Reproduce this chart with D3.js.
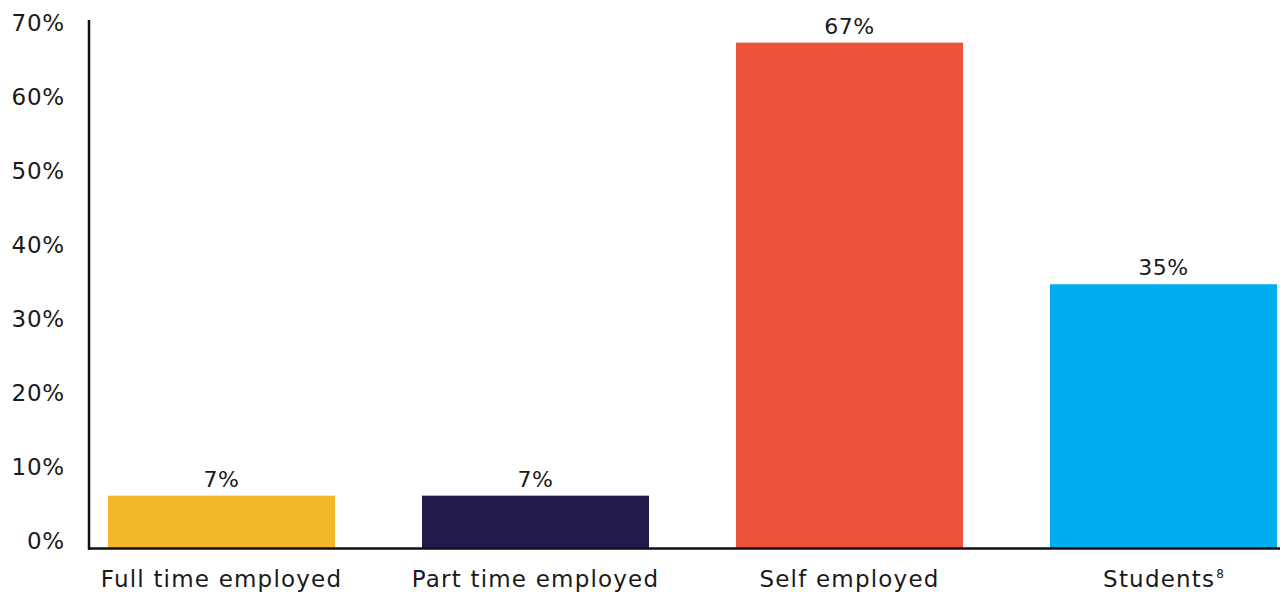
<!DOCTYPE html>
<html>
<head>
<meta charset="utf-8">
<script src="https://cdn.jsdelivr.net/npm/d3@7"></script>
<style>
  html, body { margin: 0; padding: 0; background: #fff; }
  svg { display: block; }
  text { font-family: "DejaVu Sans", sans-serif; fill: #1a1a1a; }
</style>
</head>
<body>
<svg id="chart" width="1280" height="592"></svg>
<script>
const categories = ["Full time employed", "Part time employed", "Self employed", "Students"];
const superscripts = ["", "", "", "8"];
const values = [7, 7, 67, 35];
const colors = ["#F3B72C", "#221A4B", "#EC533B", "#00AEEF"];
const yTicks = [0, 10, 20, 30, 40, 50, 60, 70];

const svg = d3.select("#chart");

const x = d3.scaleBand().domain(categories).range([108, 1277]).paddingInner(0.277).paddingOuter(0);
const y = d3.scaleLinear().domain([0, 70]).range([548.5, 20]);
// tick labels sit on a slightly tighter spacing in the reference
const yLabel = d3.scaleLinear().domain([0, 70]).range([541, 23]);

// bars
svg.append("g").selectAll("rect").data(values).join("rect")
  .attr("x", (d, i) => x(categories[i]))
  .attr("width", x.bandwidth())
  .attr("y", d => y(d))
  .attr("height", d => y(0) - y(d))
  .attr("fill", (d, i) => colors[i]);

// value labels
svg.append("g").selectAll("text").data(values).join("text")
  .attr("x", (d, i) => x(categories[i]) + x.bandwidth() / 2)
  .attr("y", d => y(d) - 9)
  .attr("text-anchor", "middle")
  .attr("font-size", 22)
  .attr("letter-spacing", 0.6)
  .text(d => d + "%");

// y axis labels
const yAxis = d3.axisLeft(yLabel).tickValues(yTicks).tickFormat(d => d + "%").tickSize(0).tickPadding(0);
const gy = svg.append("g").attr("transform", "translate(65,0)").call(yAxis);
gy.select(".domain").remove();
gy.selectAll("text").attr("font-size", 23).attr("letter-spacing", 0.8)
  .attr("font-family", "DejaVu Sans, sans-serif").attr("fill", "#1a1a1a");

// axis lines
svg.append("line").attr("x1", 89).attr("x2", 89).attr("y1", y(70)).attr("y2", y(0) + 1.25)
  .attr("stroke", "#111").attr("stroke-width", 2.5);
svg.append("line").attr("x1", 88).attr("x2", 1280).attr("y1", y(0)).attr("y2", y(0))
  .attr("stroke", "#111").attr("stroke-width", 2.5);

// category labels
const cl = svg.append("g").selectAll("text").data(categories).join("text")
  .attr("x", d => x(d) + x.bandwidth() / 2)
  .attr("y", 587)
  .attr("text-anchor", "middle")
  .attr("font-size", 23)
  .attr("letter-spacing", 1.2);
cl.append("tspan").text(d => d);
cl.append("tspan")
  .attr("font-size", 12)
  .attr("letter-spacing", 0)
  .attr("dy", -9)
  .attr("dx", 1)
  .text((d, i) => superscripts[i]);
</script>
</body>
</html>
